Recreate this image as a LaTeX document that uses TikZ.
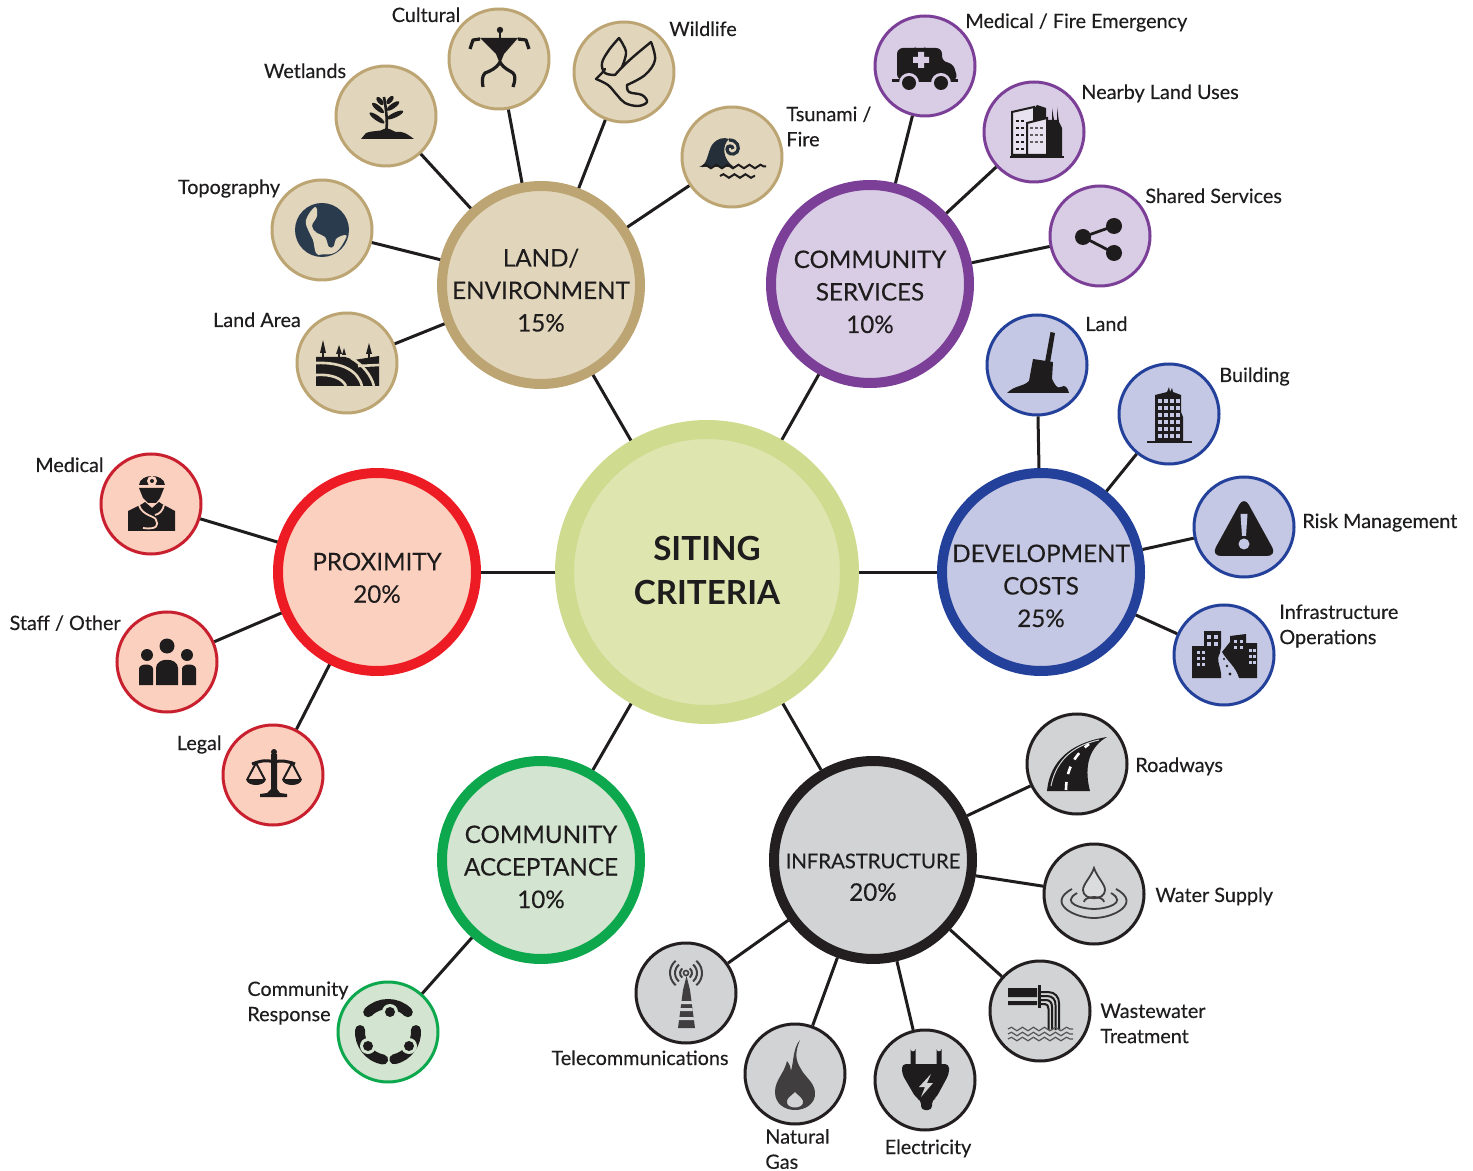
\documentclass[tikz,border=0pt]{standalone}
\usepackage{fontspec}
\setmainfont{Lato}
\newfontfamily\labfont[FakeBold=0.3]{Lato}
\newfontfamily\hubfont[FakeBold=0.2]{Lato}
\usetikzlibrary{decorations.pathmorphing}
\definecolor{ink}{HTML}{1E1C1C}
\definecolor{ringC}{HTML}{CFDB8E}\definecolor{fillC}{HTML}{DFE5AF}
\definecolor{ringL}{HTML}{BCA573}\definecolor{fillL}{HTML}{E1D6BC}
\definecolor{ringS}{HTML}{7B3F98}\definecolor{fillS}{HTML}{D9CDE5}
\definecolor{ringD}{HTML}{23409A}\definecolor{fillD}{HTML}{C5C8E4}
\definecolor{ringI}{HTML}{231F20}\definecolor{fillI}{HTML}{D1D3D4}
\definecolor{ringA}{HTML}{0DA84E}\definecolor{fillA}{HTML}{D3E4D0}
\definecolor{ringP}{HTML}{ED1C24}\definecolor{fillP}{HTML}{FBD0BF}
\definecolor{subP}{HTML}{C8202F}
\definecolor{globe}{HTML}{2A3B4D}
\newcommand\hubtext[2]{\raisebox{#1}[0pt][0pt]{\makebox[0pt]{\begin{tabular}{@{}c@{}}#2\end{tabular}}}}
\newcommand\icon[2]{\begin{scope}[shift={(#1)}]#2\end{scope}}
\tikzset{
  hub/.style={circle,inner sep=0pt,line width=5pt,minimum size=99pt,draw=#1,text=ink,
    font=\hubfont\fontsize{12.1}{16.25}\selectfont},
  sub/.style={circle,inner sep=0pt,line width=1.5pt,minimum size=50pt,draw=#1},
  conn/.style={draw=ink,line width=1.5pt},
  lab/.style={text=ink,inner sep=0pt,text height=9pt,text depth=2pt,font=\labfont\fontsize{9.9}{12.7}\selectfont},
  labm/.style={text=ink,inner sep=0pt,align=left,anchor=west,font=\labfont\fontsize{9.9}{12.6}\selectfont},
  wave/.style={draw=ink,line width=1pt,decorate,decoration={snake,amplitude=0.9pt,segment length=5.5pt}}
}
\begin{document}
\begin{tikzpicture}[x=0.5pt,y=-0.5pt]
\useasboundingbox (0,0) rectangle (1473,1171);
% central node
\node[circle,inner sep=0pt,line width=9.5pt,minimum size=142.5pt,draw=ringC,fill=fillC,text=ink,
  font=\bfseries\fontsize{16.6}{22}\selectfont] (centre) at (707,572) {\hubtext{-5.25pt}{SITING\\CRITERIA}};
% hubs
\node[hub=ringL,fill=fillL] (land) at (541,285) {\hubtext{-6.75pt}{LAND/\\ENVIRONMENT\\15\%}};
\node[hub=ringS,fill=fillS] (serv) at (870,284) {\hubtext{-8pt}{COMMUNITY\\SERVICES\\10\%}};
\node[hub=ringD,fill=fillD] (devc) at (1041,572) {\hubtext{-11pt}{DEVELOPMENT\\COSTS\\25\%}};
\node[hub=ringI,fill=fillI] (infr) at (873,860) {\hubtext{-12pt}{\fontsize{10.15}{15}\selectfont INFRASTRUCTURE\\\fontsize{12.1}{15}\selectfont 20\%}};
\node[hub=ringA,fill=fillA] (acce) at (541,860) {\hubtext{-7.5pt}{COMMUNITY\\ACCEPTANCE\\10\%}};
\node[hub=ringP,fill=fillP] (prox) at (377,572) {\hubtext{-7pt}{PROXIMITY\\20\%}};
% sub nodes
\foreach \n/\x/\y in {area/347/363,topo/322/230,wetl/386/116,cult/499/59,wild/624/72,tsun/732/157}
  \node[sub=ringL,fill=fillL] (\n) at (\x,\y) {};
\foreach \n/\x/\y in {amb/925/66,near/1034/132,shar/1100/236}
  \node[sub=ringS,fill=fillS] (\n) at (\x,\y) {};
\foreach \n/\x/\y in {dland/1037/365,bldg/1169/414,risk/1244/527,iops/1224/655}
  \node[sub=ringD,fill=fillD] (\n) at (\x,\y) {};
\foreach \n/\x/\y in {road/1077/764,watr/1094/894,wast/1040/1011,elec/925/1080,gas/795/1074,tele/686/993}
  \node[sub=ringI,fill=fillI] (\n) at (\x,\y) {};
\node[sub=ringA,fill=fillA] (resp) at (388,1032) {};
\foreach \n/\x/\y in {medi/151/504,staf/167/662,lega/273/775}
  \node[sub=subP,fill=fillP] (\n) at (\x,\y) {};
% connectors
\foreach \a/\b in {centre/land,centre/serv,centre/devc,centre/infr,centre/acce,centre/prox,
  land/area,land/topo,land/wetl,land/cult,land/wild,land/tsun,
  serv/amb,serv/near,serv/shar,
  devc/dland,devc/bldg,devc/risk,devc/iops,
  infr/road,infr/watr,infr/wast,infr/elec,infr/gas,infr/tele,
  acce/resp,prox/medi,prox/staf,prox/lega}
  \draw[conn] (\a) -- (\b);
% labels
\node[lab] (tcult) at (426,15) {Cultural};
\node[lab] (twild) at (703,29) {Wildlife};
\node[lab] (twetl) at (305,71) {Wetlands};
\node[lab] (ttopo) at (229,187) {Topography};
\node[lab] (tarea) at (257,320) {Land Area};
\node[labm] (ttsun) at (786,126.5) {Tsunami /\\Fire};
\node[lab,anchor=west] (tamb) at (965,21) {Medical / Fire Emergency};
\node[lab,anchor=west] (tnear) at (1081,92) {Nearby Land Uses};
\node[lab,anchor=west] (tshar) at (1145,196) {Shared Services};
\node[lab,anchor=west] (tdland) at (1085,324) {Land};
\node[lab,anchor=west] (tbldg) at (1219,375) {Building};
\node[lab,anchor=west] (trisk) at (1302,521) {Risk Management};
\node[labm] (tiops) at (1279,626) {Infrastructure\\Operations};
\node[lab,anchor=west] (troad) at (1135,765) {Roadways};
\node[lab,anchor=west] (twatr) at (1155,895) {Water Supply};
\node[labm] (twast) at (1100,1023.5) {Wastewater\\Treatment};
\node[lab] (telec) at (928,1147) {Electricity};
\node[labm] (tgas) at (765,1149) {Natural\\Gas};
\node[lab] (ttele) at (640,1058) {Telecommunications};
\node[labm] (tresp) at (247,1003) {Community\\Response};
\node[lab,anchor=east] (tlega) at (222,743) {Legal};
\node[lab,anchor=east] (tstaf) at (121,623) {Staff / Other};
\node[lab,anchor=east] (tmedi) at (104,465) {Medical};
% ---------- icons: land
\icon{area}{
  \fill[ink] (-24,-23)--(-21,-10)--(-27,-10)--cycle (-8,-18)--(-5,-9)--(-11,-9)--cycle (-3,-15)--(-1,-8)--(-5,-8)--cycle (22,-20)--(25,-9)--(19,-9)--cycle;
  \draw[ink,line width=1pt] (-24,-12)--(-24,-5) (-8,-12)--(-8,-5) (22,-12)--(22,-5);
  \fill[ink] (-31,-6)--(-2,-6)--(7,-3)--(32,-7)--(32,23)--(-31,23)--cycle;
  \draw[fillL,line width=1.3pt] (-31,0) .. controls (-4,-1) and (11,8) .. (15,23);
  \draw[fillL,line width=1.3pt] (-31,12) .. controls (-16,11) and (-5,15) .. (-1,23);
  \draw[fillL,line width=1.3pt] (4,-5) .. controls (16,2) and (24,12) .. (27,23);
  \draw[fillL,line width=1.3pt] (11,3)--(32,2);
}
\icon{topo}{
  \fill[globe] (0,0) circle (27);
  \fill[fillL] plot[smooth cycle,tension=.7] coordinates {(-7,-23)(-5,-14)(-10,-4)(-5,3)(3,7)(7,17)(12,16)(14,9)(23,5)(23.5,9)(14,22)(0,24.5)(-6,23)(-9,10)(-13,2)(-16,-10)};
}
\icon{wetl}{
  \fill[ink] (-25,23)--(-20,17) .. controls (-12,14) and (-6,16) .. (-2,13) .. controls (3,11) and (6,15) .. (10,16) .. controls (16,15) and (20,17) .. (28,23)--cycle;
  \draw[ink,line width=1.3pt] (0,15) .. controls (2,8) and (0,-8) .. (-2,-19);
  \foreach \x/\y/\r/\lng in {9/-1/25/9,-9/2/-35/9,7/-10/35/7.5,-8/-8/-40/7.5,4/-16/50/5,-6/-15/-50/5}
    \fill[ink,shift={(\x,\y)},rotate=\r] (0,0) ellipse [x radius=\lng,y radius=2.5];
}
\icon{cult}{
  \fill[ink] (1,-29) circle (3.2);
  \draw[ink,line width=1.4pt] (1,-28)--(1,-18);
  \fill[ink] (-19,-21)--(19,-21)--(5,-5)--(1,5)--(-3,-5)--cycle;
  \draw[ink,line width=1.6pt,line join=round] (-19,-20)--(-26,-19)--(-29,-10);
  \draw[ink,line width=1.6pt,line join=round] (19,-20)--(27,-19)--(30,-10);
  \draw[ink,line width=1.6pt,line join=round] (1,3) .. controls (-3,10) and (-9,12) .. (-14,14) .. controls (-17,17) and (-17,22) .. (-16,28);
  \draw[ink,line width=1.6pt,line join=round] (1,3) .. controls (5,10) and (10,11) .. (14,14) .. controls (17,17) and (16,22) .. (14,28);
}
\icon{wild}{
  \begin{scope}[ink,line width=1.2pt,line join=round,line cap=round]
  \draw plot[smooth,tension=.6] coordinates {(-2,-5)(2,-20)(-5,-34)};
  \draw plot[smooth,tension=.6] coordinates {(-5,-34)(-15,-22)(-22,-9)(-19,1)(-9,3)};
  \draw (-9,3) .. controls (2,-10) and (15,-20) .. (27,-30);
  \draw plot[smooth,tension=.6] coordinates {(27,-30)(31,-12)(21,3)(3,13)};
  \draw plot[smooth,tension=.6] coordinates {(3,13)(5,20)(18,23)(23,30)(14,34)(1,31)(-7,23)(-16,13)(-28,7)};
  \draw (-28,7) -- (-22,1) -- (-19,-3);
  \end{scope}
}
\icon{tsun}{
  \fill[globe!60!ink] (-33,10) .. controls (-24,8) and (-25,-4) .. (-20,-12) .. controls (-15,-19) and (-8,-20) .. (-3,-18) .. controls (-10,-12) and (-10,2) .. (2,10) -- cycle;
  \draw[globe!60!ink,line width=1.6pt] (-3,-17) .. controls (6,-17) and (8,-9) .. (5,-5) .. controls (1,-1) and (-5,-3) .. (-5,-8) .. controls (-5,-12) and (1,-12) .. (1,-8);
  \draw[wave] (-30,9.5)--(34,9.5);
  \draw[wave] (-12,19)--(23,19);
}
% ---------- icons: services
\icon{amb}{
  \draw[fillS!60!ink,line width=0.8pt] (-10,-19) arc[start angle=180,end angle=360,x radius=5,y radius=-5];
  \fill[ink,rounded corners=3pt] (-28,14)--(-28,-18)--(17,-18)--(17,-4)--(28,-3)--(33,14)--cycle;
  \fill[ink] (-33,13)--(33,13)--(33,16)--(-33,16)--cycle;
  \fill[fillS] (-16,17) circle (10) (16,17) circle (10);
  \fill[ink] (-16,17) circle (7) (16,17) circle (7);
  \fill[fillS] (-7,-14)--(-1,-14)--(-1,-9)--(4,-9)--(4,-3)--(-1,-3)--(-1,2)--(-7,2)--(-7,-3)--(-12,-3)--(-12,-9)--(-7,-9)--cycle;
}
\icon{near}{
  \fill[ink] (-1,-22)--(3,-27)--(12,-24)--(12,-12)--(18,-12)--(18,-24)--(20,-12)--(23,-12)--(23,-25)--(25,-10)--(28,-4)--(28,25)--(-1,25)--cycle;
  \fill[ink] (-24,24)--(30,24)--(30,26)--(-24,26)--cycle;
  \fill[fillS!60!white,draw=ink,line width=1pt] (-22,-20)--(0,-25)--(0,23)--(-22,23)--cycle;
  \fill[fillS!60!white,draw=ink,line width=1pt] (-7,-9)--(13,-14)--(13,23)--(-7,23)--cycle;
  \foreach \x in {-18,-13}\foreach \y in {-12,-5,2,9,16}\fill[ink] (\x,\y) rectangle +(3,2);
  \foreach \x in {-4,1,6}\foreach \y in {-5,2,9}\fill[ink!70] (\x,\y) rectangle +(3,2);
}
\icon{shar}{
  \draw[ink,line width=1.4pt] (14,-10)--(-17,1)--(14,17);
  \fill[ink] (-17,1) circle (8) (14,-10) circle (8) (14,17) circle (8);
}
% ---------- icons: development
\icon{dland}{
  \fill[ink] (13.5,-33)--(18,-32)--(13,-2)--(8,-3)--cycle;
  \fill[ink] (-30,28) .. controls (-22,20) and (-14,22) .. (-8,16) -- (-4,-6) -- (16,-3) -- (15,14) .. controls (18,20) and (20,24) .. (24,22) .. controls (28,19) and (31,23) .. (32,28) -- cycle;
}
\icon{bldg}{
  \fill[ink] (-14,-19)--(-2,-22)--(0,-27)--(1,-22)--(3,-26)--(4,-22)--(12,-19)--(12,-2)--(14,3)--(14,28)--(-14,28)--cycle;
  \draw[ink,line width=.8pt] (-22,28)--(23,28);
  \foreach \x in {-11,-5,1,7}\foreach \y in {-15,-8,-1,6,13,20}\fill[fillD] (\x,\y) rectangle +(4,4.5);
}
\icon{risk}{
  \fill[ink,rounded corners=5pt] (0,-31)--(33,29)--(-33,29)--cycle;
  \fill[fillD] (-3.5,-13)--(3.5,-13)--(2,9)--(-2,9)--cycle;
  \fill[fillD] (0,17) circle (5.5);
}
\icon{iops}{
  \fill[ink] (-32,-9)--(-20,-9)--(-20,-24)--(-3,-24)--(-3,-8)--(-4,-2) .. controls (-9,6) and (-2,12) .. (-3,23)--(-32,23)--cycle;
  \fill[ink] (2,-8)--(6,-13)--(6,-19)--(22,-21)--(22,-12)--(33,-12)--(33,23)--(15,23) .. controls (12,12) and (4,7) .. (-2,-3)--cycle;
  \foreach \x in {-27,-22}\foreach \y in {-4,2,8}\fill[fillD] (\x,\y) rectangle +(3,2.5);
  \foreach \x in {-17,-10}\foreach \y in {-20,-13}\fill[fillD] (\x,\y) rectangle +(4,4);
  \foreach \x in {10,16}\foreach \y in {-15,-9}\fill[fillD] (\x,\y) rectangle +(3,3);
  \foreach \x in {25,29}\foreach \y in {-6,0,6}\fill[fillD] (\x,\y) rectangle +(2.5,2.5);
  \fill[ink] (0,4) circle (1.2) (3,11) circle (1.3) (6,19) circle (1.6);
}
% ---------- icons: proximity
\icon{medi}{
  \fill[ink] (-12,-19) .. controls (-11,-31) and (13,-31) .. (14,-19) -- cycle;
  \fill[fillP] (1,-23) circle (5);\fill[ink] (1,-23) circle (2);
  \fill[ink] (-12,-16)--(13,-16)--(9,-6)--(5,-1)--(-3,-1)--(-8,-6)--cycle;
  \fill[ink] (-9,0)--(-6,-2)--(1,4)--(8,-2)--(11,0)--(24,7)--(24,27)--(-23,27)--(-23,7)--cycle;
  \draw[fillP,line width=.9pt] (-12,1) .. controls (-9,12) and (5,12) .. (5,16) .. controls (8,21) and (6,26) .. (-8,24);
  \draw[fillP,line width=.9pt] (13,1) .. controls (12,6) and (9,10) .. (4,11);
}
\icon{staf}{
  \fill[ink] (0,-16) circle (7.5) (-20,-7) circle (6) (20,-7) circle (6);
  \fill[ink] (-11,23)--(-11,6) .. controls (-11,-5) and (11,-5) .. (11,6)--(11,23)--cycle;
  \fill[ink] (-28,23)--(-28,7) .. controls (-28,1) and (-14,1) .. (-14,7)--(-14,23)--cycle;
  \fill[ink] (29,23)--(29,7) .. controls (29,1) and (15,1) .. (15,7)--(15,23)--cycle;
}
\icon{lega}{
  \fill[ink] (1,-23) circle (3);
  \fill[ink] (-2,-21)--(4,-21)--(4,14)--(7,18)--(14,19)--(14,22)--(-13,22)--(-13,19)--(-6,18)--(-2,14)--cycle;
  \draw[ink,line width=1.5pt] (-21,-11) .. controls (-10,-15) and (-6,-15) .. (1,-13) .. controls (8,-15) and (14,-14) .. (22,-11);
  \draw[ink,line width=1pt] (-26,5)--(-17,-12)--(-8,5) (10,5)--(19,-12)--(28,5);
  \fill[ink] (-27,4)--(-7,4) .. controls (-8,12) and (-26,12) .. (-27,4) (9,4)--(29,4) .. controls (28,12) and (10,12) .. (9,4);
}
% ---------- icons: acceptance
\icon{resp}{
  \draw[ink,line width=5pt,line cap=round] (225:28) arc[start angle=225,end angle=315,radius=28];
  \draw[ink,line width=5pt,line cap=round] (184:28) arc[start angle=184,end angle=100,radius=28];
  \draw[ink,line width=5pt,line cap=round] (-4:28) arc[start angle=-4,end angle=77,radius=28];
  \foreach \x/\y in {2/-20,-20/14,21/14}{
    \fill[fillA] (\x,\y) circle (8);
    \fill[ink] (\x,\y) circle (5);
  }
}
% ---------- icons: infrastructure
\icon{road}{
  \fill[ink] (-30,27) .. controls (-28,5) and (-15,-20) .. (30,-27) .. controls (14,-18) and (6,0) .. (13,27) -- cycle;
  \draw[fillI,line width=.5pt] (-26,22) .. controls (-22,2) and (-10,-17) .. (22,-24);
  \draw[white,line width=1.3pt,dash pattern=on 4pt off 4pt] (-11,26) .. controls (-11,8) and (-4,-8) .. (12,-20);
}
\icon{watr}{
  \draw[ink!85,line width=.9pt,fill=fillI!80!white] (0,-26) .. controls (3,-17) and (11,-10) .. (11,-4) .. controls (11,7) and (-11,7) .. (-11,-4) .. controls (-11,-10) and (-3,-17) .. (0,-26) -- cycle;
  \draw[ink!85,line width=.9pt] (-10,8) arc[start angle=180,end angle=0,x radius=10,y radius=-5];
  \draw[ink!85,line width=.9pt] (-17,-1) .. controls (-34,9) and (-12,15) .. (0,15) .. controls (12,15) and (34,9) .. (17,-1);
  \draw[ink!85,line width=.9pt] (-22,-5) .. controls (-48,9) and (-20,24) .. (0,24) .. controls (20,24) and (48,9) .. (22,-5);
}
\icon{wast}{
  \fill[ink] (-32,-23)--(-3,-23)--(-3,-14)--(-32,-14)--cycle (-32,-10)--(-3,-10)--(-3,-6)--(-32,-6)--cycle;
  \fill[ink] (-2.5,-26)--(1,-26)--(1,-3)--(-2.5,-3)--cycle;
  \draw[ink,line width=1pt] (1,-19)--(8,-19) .. controls (15,-19) and (19,-14) .. (19,-8)--(19,19);
  \draw[ink,line width=1pt] (1,-15)--(7,-15) .. controls (13,-15) and (15.5,-11) .. (15.5,-6)--(15.5,19);
  \draw[ink,line width=1pt] (1,-11)--(6,-11) .. controls (10,-11) and (12,-8) .. (12,-4)--(12,19);
  \draw[ink,line width=1pt] (1,-7)--(5,-7) .. controls (7,-7) and (8.5,-5) .. (8.5,-2)--(8.5,19);
  \foreach \y in {18,23,28} \draw[wave,line width=.6pt,draw=ink!75] (-32,\y)--(33,\y);
}
\icon{elec}{
  \fill[ink] (-14.5,-15)--(-14.5,-31) arc[start angle=180,end angle=360,x radius=2.5,y radius=-2.5]--(-9.5,-15)--cycle;
  \fill[ink] (11.5,-15)--(11.5,-31) arc[start angle=180,end angle=360,x radius=2.5,y radius=-2.5]--(16.5,-15)--cycle;
  \fill[ink,rounded corners=2pt] (-23,-16)--(24,-16)--(24,-6)--(11,18)--(7,20)--(7,30)--(-4,30)--(-4,20)--(-9,18)--(-23,-6)--cycle;
  \fill[fillI] (6,-6)--(-6,7)--(0,7)--(-4,17)--(8,3)--(2,3)--cycle;
}
\icon{gas}{
  \fill[ink!85,even odd rule] (5,-34) .. controls (0,-22) and (0,-14) .. (6,-5) .. controls (10,3) and (19,8) .. (20,18) .. controls (21,30) and (10,36) .. (0,36) .. controls (-10,36) and (-20,30) .. (-20,18) .. controls (-20,6) and (-11,0) .. (-8,-13) .. controls (-5,-9) and (-4,-6) .. (-4,-3) .. controls (-1,-14) and (-2,-26) .. (5,-34) -- cycle
    (0,18) .. controls (4,22) and (9,25) .. (8,29) .. controls (7,35) and (-7,35) .. (-8,29) .. controls (-9,24) and (-4,22) .. (0,18) -- cycle;
}
\icon{tele}{
  \fill[ink!85] (-8,35)--(9,35)--(4,-3)--(0.5,-17)--(-3,-3)--cycle;
  \fill[fillI] (-5.4,8)--(5.6,8)--(6,11)--(-5.8,11)--cycle (-6.2,15)--(6.4,15)--(6.8,18)--(-6.6,18)--cycle (-7.2,24)--(7.6,24)--(8,27)--(-7.6,27)--cycle;
  \begin{scope}[shift={(0,-20)}]
    \draw[ink!85,line width=.8pt] (0,0) circle (2.5);
    \foreach \r in {6,11,16}{
      \draw[ink!85,line width=1pt] (-50:\r) arc[start angle=-50,end angle=50,radius=\r];
      \draw[ink!85,line width=1pt] (130:\r) arc[start angle=130,end angle=230,radius=\r];
    }
  \end{scope}
}
\end{tikzpicture}
\end{document}
